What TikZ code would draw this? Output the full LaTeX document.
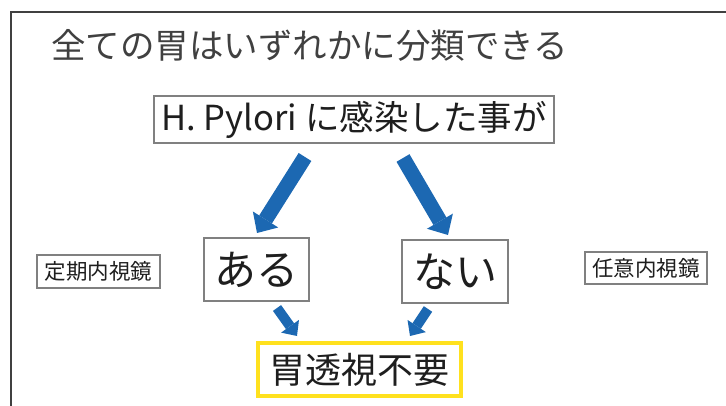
\documentclass[tikz,border=0pt]{standalone}
\usepackage{fontspec}
\setmainfont{Noto Sans CJK JP}
\usetikzlibrary{arrows.meta}
\definecolor{framegray}{RGB}{64,64,64}
\definecolor{boxgray}{RGB}{128,128,128}
\definecolor{txt}{RGB}{30,30,30}
\definecolor{arrowblue}{RGB}{28,104,178}
\definecolor{hiyellow}{RGB}{255,225,30}
\tikzset{
  box/.style={draw=boxgray, line width=1.1pt, inner sep=0pt, text=txt, align=center},
  bigarrow/.style={draw=arrowblue, line width=15pt,
    -{Triangle[width=30pt,length=16pt,line width=0pt]}},
  smallarrow/.style={draw=arrowblue, line width=10pt,
    -{Triangle[width=22pt,length=12pt,line width=0pt]}},
}
\begin{document}
\begin{tikzpicture}[x=1pt,y=-1pt]
\useasboundingbox (0,0) rectangle (726,406);
% frame
\draw[framegray, line width=1.5pt] (11,406) -- (11,12) -- (726,12);
% title
\node[anchor=west, inner sep=0pt, text=framegray, font=\fontsize{34.5}{40}\selectfont] (title) at (51,45) {全ての胃はいずれかに分類できる};
% boxes
\node[box, minimum width=400pt, minimum height=47pt, font=\fontsize{34.5}{40}\selectfont] (hp) at (354,119.5) {H. Pylori に感染した事が};
\node[box, minimum width=105pt, minimum height=63pt, font=\fontsize{42}{48}\selectfont] (aru) at (256.5,269.5) {ある};
\node[box, minimum width=106pt, minimum height=63pt, font=\fontsize{42}{48}\selectfont] (nai) at (455,271.5) {ない};
\node[box, minimum width=123pt, minimum height=33pt, font=\fontsize{21.5}{24}\selectfont] (teiki) at (98.5,271.5) {定期内視鏡};
\node[box, minimum width=122pt, minimum height=32pt, font=\fontsize{21.5}{24}\selectfont] (nini) at (646,268) {任意内視鏡};
\node[box, draw=hiyellow, line width=4pt, minimum width=203pt, minimum height=53pt, font=\fontsize{36}{42}\selectfont] (fuyou) at (359.5,369.5) {胃透視不要};
% arrow end points
\coordinate (a1s) at (305,157);
\coordinate (a1e) at (257,233);
\coordinate (a2s) at (403,158);
\coordinate (a2e) at (448,235);
\coordinate (a3s) at (277,308);
\coordinate (a3e) at (297,336);
\coordinate (a4s) at (428,309);
\coordinate (a4e) at (410,336);
\draw[bigarrow] (a1s) -- (a1e);
\draw[bigarrow] (a2s) -- (a2e);
\draw[smallarrow] (a3s) -- (a3e);
\draw[smallarrow] (a4s) -- (a4e);
\end{tikzpicture}
\end{document}
